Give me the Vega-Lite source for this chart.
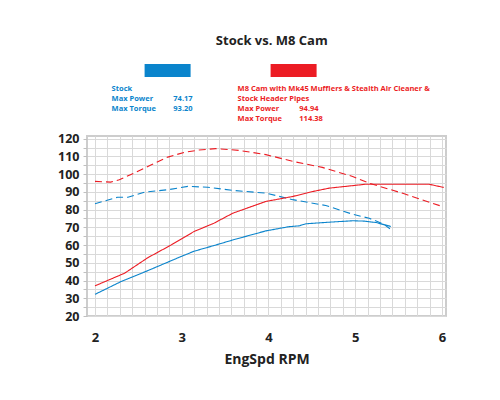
{
  "$schema": "https://vega.github.io/schema/vega-lite/v6.json",
  "padding": {"left": 56, "top": 35, "right": 5, "bottom": 5},
  "title": {
    "text": "Stock vs. M8 Cam",
    "fontSize": 13,
    "font": "Open Sans",
    "fontWeight": "bold",
    "color": "#222222",
    "anchor": "middle",
    "dx": 20,
    "offset": 8
  },
  "config": {
    "font": "Open Sans",
    "axis": {"grid": true, "gridColor": "#d9d9d9", "gridOpacity": 1, "gridWidth": 1}
  },
  "datasets": {
    "curves": [
      {"rpm": 2.0, "value": 83.3, "series": "Stock", "measure": "Torque"},
      {"rpm": 2.26, "value": 87.0, "series": "Stock", "measure": "Torque"},
      {"rpm": 2.38, "value": 87.0, "series": "Stock", "measure": "Torque"},
      {"rpm": 2.57, "value": 89.8, "series": "Stock", "measure": "Torque"},
      {"rpm": 2.84, "value": 91.2, "series": "Stock", "measure": "Torque"},
      {"rpm": 3.07, "value": 93.1, "series": "Stock", "measure": "Torque"},
      {"rpm": 3.3, "value": 92.6, "series": "Stock", "measure": "Torque"},
      {"rpm": 3.59, "value": 90.8, "series": "Stock", "measure": "Torque"},
      {"rpm": 3.97, "value": 89.3, "series": "Stock", "measure": "Torque"},
      {"rpm": 4.28, "value": 85.6, "series": "Stock", "measure": "Torque"},
      {"rpm": 4.66, "value": 82.3, "series": "Stock", "measure": "Torque"},
      {"rpm": 4.97, "value": 77.4, "series": "Stock", "measure": "Torque"},
      {"rpm": 5.16, "value": 75.1, "series": "Stock", "measure": "Torque"},
      {"rpm": 5.32, "value": 72.0, "series": "Stock", "measure": "Torque"},
      {"rpm": 5.4, "value": 69.2, "series": "Stock", "measure": "Torque"},
      {"rpm": 2.0, "value": 32.2, "series": "Stock", "measure": "Power"},
      {"rpm": 2.3, "value": 39.4, "series": "Stock", "measure": "Power"},
      {"rpm": 2.61, "value": 45.6, "series": "Stock", "measure": "Power"},
      {"rpm": 2.99, "value": 53.5, "series": "Stock", "measure": "Power"},
      {"rpm": 3.14, "value": 56.5, "series": "Stock", "measure": "Power"},
      {"rpm": 3.37, "value": 59.7, "series": "Stock", "measure": "Power"},
      {"rpm": 3.59, "value": 62.9, "series": "Stock", "measure": "Power"},
      {"rpm": 3.97, "value": 68.0, "series": "Stock", "measure": "Power"},
      {"rpm": 4.24, "value": 70.4, "series": "Stock", "measure": "Power"},
      {"rpm": 4.35, "value": 70.8, "series": "Stock", "measure": "Power"},
      {"rpm": 4.43, "value": 72.0, "series": "Stock", "measure": "Power"},
      {"rpm": 4.7, "value": 72.9, "series": "Stock", "measure": "Power"},
      {"rpm": 4.97, "value": 73.7, "series": "Stock", "measure": "Power"},
      {"rpm": 5.1, "value": 73.5, "series": "Stock", "measure": "Power"},
      {"rpm": 5.24, "value": 72.7, "series": "Stock", "measure": "Power"},
      {"rpm": 5.41, "value": 70.5, "series": "Stock", "measure": "Power"},
      {"rpm": 2.0, "value": 95.9, "series": "M8 Cam", "measure": "Torque"},
      {"rpm": 2.18, "value": 95.5, "series": "M8 Cam", "measure": "Torque"},
      {"rpm": 2.28, "value": 96.8, "series": "M8 Cam", "measure": "Torque"},
      {"rpm": 2.45, "value": 100.6, "series": "M8 Cam", "measure": "Torque"},
      {"rpm": 2.65, "value": 105.3, "series": "M8 Cam", "measure": "Torque"},
      {"rpm": 2.84, "value": 109.6, "series": "M8 Cam", "measure": "Torque"},
      {"rpm": 3.03, "value": 112.3, "series": "M8 Cam", "measure": "Torque"},
      {"rpm": 3.2, "value": 113.6, "series": "M8 Cam", "measure": "Torque"},
      {"rpm": 3.39, "value": 114.4, "series": "M8 Cam", "measure": "Torque"},
      {"rpm": 3.66, "value": 113.4, "series": "M8 Cam", "measure": "Torque"},
      {"rpm": 3.97, "value": 111.0, "series": "M8 Cam", "measure": "Torque"},
      {"rpm": 4.28, "value": 107.2, "series": "M8 Cam", "measure": "Torque"},
      {"rpm": 4.62, "value": 103.8, "series": "M8 Cam", "measure": "Torque"},
      {"rpm": 4.97, "value": 98.7, "series": "M8 Cam", "measure": "Torque"},
      {"rpm": 5.16, "value": 94.9, "series": "M8 Cam", "measure": "Torque"},
      {"rpm": 5.54, "value": 89.3, "series": "M8 Cam", "measure": "Torque"},
      {"rpm": 6.0, "value": 81.8, "series": "M8 Cam", "measure": "Torque"},
      {"rpm": 2.0, "value": 37.0, "series": "M8 Cam", "measure": "Power"},
      {"rpm": 2.34, "value": 44.1, "series": "M8 Cam", "measure": "Power"},
      {"rpm": 2.61, "value": 52.9, "series": "M8 Cam", "measure": "Power"},
      {"rpm": 2.88, "value": 60.1, "series": "M8 Cam", "measure": "Power"},
      {"rpm": 3.14, "value": 67.6, "series": "M8 Cam", "measure": "Power"},
      {"rpm": 3.37, "value": 72.3, "series": "M8 Cam", "measure": "Power"},
      {"rpm": 3.59, "value": 78.0, "series": "M8 Cam", "measure": "Power"},
      {"rpm": 3.97, "value": 84.6, "series": "M8 Cam", "measure": "Power"},
      {"rpm": 4.28, "value": 87.4, "series": "M8 Cam", "measure": "Power"},
      {"rpm": 4.51, "value": 90.2, "series": "M8 Cam", "measure": "Power"},
      {"rpm": 4.7, "value": 92.1, "series": "M8 Cam", "measure": "Power"},
      {"rpm": 5.12, "value": 94.3, "series": "M8 Cam", "measure": "Power"},
      {"rpm": 5.85, "value": 94.3, "series": "M8 Cam", "measure": "Power"},
      {"rpm": 6.02, "value": 92.5, "series": "M8 Cam", "measure": "Power"}
    ],
    "legendText": [
      {"series": "Stock", "line": 1, "label": "Stock", "value": ""},
      {"series": "Stock", "line": 2, "label": "Max Power", "value": "74.17"},
      {"series": "Stock", "line": 3, "label": "Max Torque", "value": "93.20"},
      {"series": "M8 Cam", "line": 1, "label": "M8 Cam with Mk45 Mufflers & Stealth Air Cleaner &", "value": ""},
      {"series": "M8 Cam", "line": 2, "label": "Stock Header Pipes", "value": ""},
      {"series": "M8 Cam", "line": 3, "label": "Max Power", "value": "94.94"},
      {"series": "M8 Cam", "line": 4, "label": "Max Torque", "value": "114.38"}
    ],
    "swatches": [
      {"series": "Stock"},
      {"series": "M8 Cam"}
    ]
  },
  "spacing": 8,
  "vconcat": [
    {
      "width": 359,
      "height": 64,
      "view": {"stroke": null},
      "layer": [
        {
          "data": {"name": "swatches"},
          "mark": {"type": "rect", "width": 46, "height": 13},
          "encoding": {
            "x": {"field": "series", "type": "nominal", "scale": {"type": "point", "domain": ["Stock", "M8 Cam"], "range": [24.6, 150.6], "padding": 0}, "axis": null},
            "xOffset": {"value": 56},
            "y": {"datum": 1, "type": "ordinal", "scale": {"type": "point", "domain": [1, 2, 3, 4], "range": [32.5, 62.7], "padding": 0}, "axis": null},
            "yOffset": {"value": -18},
            "color": {"field": "series", "type": "nominal", "scale": {"domain": ["Stock", "M8 Cam"], "range": ["#0a84cc", "#ec1c24"]}, "legend": null}
          }
        },
        {
          "data": {"name": "legendText"},
          "mark": {"type": "text", "align": "left", "baseline": "middle", "fontSize": 7.5, "fontWeight": "bold"},
          "encoding": {
            "x": {"field": "series", "type": "nominal"},
            "y": {"field": "line", "type": "ordinal"},
            "text": {"field": "label"},
            "color": {"field": "series", "type": "nominal", "scale": {"domain": ["Stock", "M8 Cam"], "range": ["#1b8bcc", "#e3212b"]}, "legend": null}
          }
        },
        {
          "data": {"name": "legendText"},
          "mark": {"type": "text", "align": "left", "baseline": "middle", "fontSize": 7.5, "fontWeight": "bold", "dx": 61.7},
          "encoding": {
            "x": {"field": "series", "type": "nominal"},
            "y": {"field": "line", "type": "ordinal"},
            "text": {"field": "value"},
            "color": {"field": "series", "type": "nominal", "legend": null}
          }
        }
      ]
    },
    {
      "width": 359,
      "height": 180,
      "view": {"stroke": "#cdcdcd", "strokeWidth": 2},
      "data": {"name": "curves"},
      "mark": {"type": "line", "strokeWidth": 1.1},
      "encoding": {
        "x": {
          "field": "rpm",
          "type": "quantitative",
          "scale": {"domain": [1.908, 6.046], "nice": false, "zero": false},
          "axis": {
            "title": "EngSpd RPM",
            "titleFontSize": 14,
            "titleFontWeight": "bold",
            "titleColor": "#222222",
            "titlePadding": 8,
            "values": [2, 2.142857, 2.285714, 2.428571, 2.571429, 2.714286, 2.857143, 3, 3.142857, 3.285714, 3.428571, 3.571429, 3.714286, 3.857143, 4, 4.142857, 4.285714, 4.428571, 4.571429, 4.714286, 4.857143, 5, 5.142857, 5.285714, 5.428571, 5.571429, 5.714286, 5.857143, 6],
            "labelExpr": "abs(datum.value - round(datum.value)) < 0.001 ? format(datum.value, 'd') : ''",
            "labelOverlap": false,
            "labelFontSize": 13,
            "labelFontWeight": "bold",
            "labelColor": "#222222",
            "labelPadding": 15,
            "ticks": false,
            "domain": false
          }
        },
        "y": {
          "field": "value",
          "type": "quantitative",
          "scale": {"domain": [20, 121.5], "nice": false, "zero": false},
          "axis": {
            "title": null,
            "values": [20, 25, 30, 35, 40, 45, 50, 55, 60, 65, 70, 75, 80, 85, 90, 95, 100, 105, 110, 115, 120],
            "labelExpr": "datum.value % 10 == 0 ? format(datum.value, 'd') : ''",
            "labelOverlap": false,
            "labelFontSize": 12.5,
            "labelFontWeight": "bold",
            "labelColor": "#222222",
            "labelPadding": 4,
            "tickSize": 4,
            "tickColor": "#c0c0c0",
            "domain": false
          }
        },
        "color": {
          "field": "series",
          "type": "nominal",
          "scale": {"domain": ["Stock", "M8 Cam"], "range": ["#5ba2cb", "#d45a60"]},
          "legend": null
        },
        "strokeDash": {
          "field": "measure",
          "type": "nominal",
          "scale": {"domain": ["Power", "Torque"], "range": [[1, 0], [7, 4]]},
          "legend": null
        },
        "detail": {"field": "measure"}
      }
    }
  ]
}
